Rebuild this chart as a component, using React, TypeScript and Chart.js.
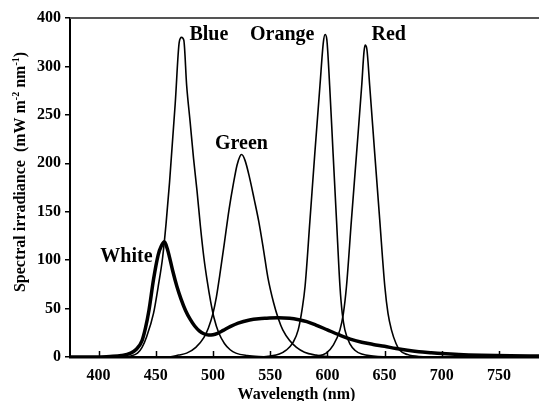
import { useEffect, useRef } from 'react';
import { Chart, registerables } from 'chart.js';

Chart.register(...registerables);

const FONT = '"Liberation Serif", "Times New Roman", serif';

// Wavelength (nm) / spectral irradiance (mW m-2 nm-1) samples
const blueNm = [375, 420, 428, 434, 438, 442, 448, 452, 456, 459, 462, 467, 470.5, 472.5, 474.5, 477, 480, 483, 486, 489, 492, 495, 498, 501, 505, 510, 515, 520, 530, 540, 560, 785];
const blueVal = [0, 0, 1, 4, 10, 21, 45, 72, 103, 138, 180, 262, 325, 330, 327, 280, 243, 205, 172, 135, 103, 78, 57, 40, 25, 14, 7.5, 4, 1.5, 0.5, 0, 0];

const greenNm = [375, 460, 470, 477, 485, 492, 496, 500, 503, 506, 510, 514, 518, 521, 523.5, 525, 528, 532, 536, 540, 544, 548, 553, 557, 561, 567, 573, 580, 590, 600, 620, 785];
const greenVal = [0, 0, 2, 4, 10, 20, 30, 45, 62, 85, 118, 152, 180, 198, 207, 209, 203, 185, 163, 140, 112, 82, 56, 40, 28, 17, 10, 5, 2, 0.5, 0, 0];

const orangeNm = [375, 540, 550, 558, 564, 570, 574.5, 578, 580.5, 584.7, 589, 593.5, 596.5, 598, 599.5, 602, 605, 608, 611, 613, 615.3, 620, 624, 630, 640, 660, 785];
const orangeVal = [0, 0, 1, 3, 7, 15, 28, 50, 73, 140, 210, 280, 325, 333, 328, 280, 210, 141, 73, 45, 28, 13, 7, 3, 1, 0, 0];

const redNm = [375, 580, 590, 599, 605, 611, 614, 616.7, 621, 625.5, 630, 632, 633, 634.5, 637, 641.4, 645.8, 650.2, 653, 656, 660, 663.3, 670, 680, 700, 785];
const redVal = [0, 0, 1, 4, 12, 28, 45, 73, 141, 210, 280, 315, 322, 318, 280, 210, 141, 73, 45, 28, 14, 7, 2.5, 0.5, 0, 0];

const whiteNm = [375, 400, 410, 420, 428, 433, 438, 441, 444, 448, 452, 455, 457.5, 460, 462.6, 465, 468.4, 472, 476, 480, 484, 488, 492, 496, 500, 504, 509, 515, 522, 532, 540, 547, 557, 567, 575, 582, 590, 600, 610, 620, 630, 640, 650, 660, 670, 680, 690, 700, 715, 735, 760, 785];
const whiteVal = [0, 0, 0.5, 1.5, 4, 8, 17, 30, 48, 80, 105, 115, 119, 112, 100, 88, 73, 60, 48, 39, 32, 27, 24, 22.7, 23, 24.5, 27.5, 31.3, 35, 38.2, 39.5, 40, 40.5, 40, 38.5, 36.5, 33, 28, 23, 18.5, 15.3, 13, 11, 8.8, 6.9, 5.5, 4.5, 3.6, 2.6, 1.8, 1.2, 1];

const xTickValues = [400, 450, 500, 550, 600, 650, 700, 750];
const yTickValues = [0, 50, 100, 150, 200, 250, 300, 350];
const yTickLabels = ['0', '50', '100', '150', '200', '250', '300', '400'];

const seriesNames = ['Blue', 'Orange', 'Red', 'Green', 'White'];
// anchor (nm, value) of each series label, left/baseline
const labelNm = [479.4, 532.4, 638.6, 501.8, 401.5];
const labelVal = [327.5, 327.5, 327.5, 214.6, 98.5];

const toPts = (xs: number[], ys: number[]) => xs.map((x, i) => ({ x, y: ys[i] }));

const decor = {
  id: 'decor',
  afterDraw(chart: any) {
    const { ctx, chartArea, scales } = chart;
    const x = scales.x;
    const y = scales.y;
    ctx.save();
    // top frame line
    ctx.strokeStyle = '#555';
    ctx.lineWidth = 2;
    ctx.beginPath();
    ctx.moveTo(chartArea.left, chartArea.top);
    ctx.lineTo(chartArea.right, chartArea.top);
    ctx.stroke();
    // inward x ticks
    ctx.strokeStyle = '#000';
    ctx.lineWidth = 1.5;
    xTickValues.forEach((v) => {
      const px = Math.round(x.getPixelForValue(v)) + 0.5;
      ctx.beginPath();
      ctx.moveTo(px, chartArea.bottom);
      ctx.lineTo(px, chartArea.bottom - 6);
      ctx.stroke();
    });
    // series labels
    ctx.fillStyle = '#000';
    ctx.font = `bold 20px ${FONT}`;
    ctx.textAlign = 'left';
    ctx.textBaseline = 'alphabetic';
    seriesNames.forEach((t, i) => {
      ctx.fillText(t, x.getPixelForValue(labelNm[i]), y.getPixelForValue(labelVal[i]));
    });
    // x title
    ctx.font = `bold 16px ${FONT}`;
    ctx.textAlign = 'center';
    ctx.textBaseline = 'top';
    ctx.fillText('Wavelength (nm)', (chartArea.left + chartArea.right) / 2 - 8, 387);
    // y title with superscripts
    const segs: [string, boolean][] = [
      ['Spectral irradiance  (mW m', false],
      ['-2', true],
      [' nm', false],
      ['-1', true],
      [')', false],
    ];
    const big = `bold 16px ${FONT}`;
    const small = `bold 10px ${FONT}`;
    let total = 0;
    segs.forEach(([t, sup]) => {
      ctx.font = sup ? small : big;
      total += ctx.measureText(t).width;
    });
    ctx.translate(25, 172);
    ctx.rotate(-Math.PI / 2);
    ctx.textAlign = 'left';
    ctx.textBaseline = 'alphabetic';
    let cx = -total / 2;
    segs.forEach(([t, sup]) => {
      ctx.font = sup ? small : big;
      ctx.fillText(t, cx, sup ? -6 : 0);
      cx += ctx.measureText(t).width;
    });
    ctx.restore();
  },
};

export default function App() {
  const ref = useRef<HTMLCanvasElement | null>(null);
  useEffect(() => {
    if (!ref.current) return;
    const mk = (data: { x: number; y: number }[], w: number) => ({
      data,
      borderColor: '#000',
      borderWidth: w,
      pointRadius: 0,
      fill: false,
      cubicInterpolationMode: 'monotone' as const,
    });
    const chart = new Chart(ref.current, {
      type: 'line',
      data: {
        datasets: [
          mk(toPts(blueNm, blueVal), 1.6),
          mk(toPts(greenNm, greenVal), 1.6),
          mk(toPts(orangeNm, orangeVal), 1.6),
          mk(toPts(redNm, redVal), 1.6),
          mk(toPts(whiteNm, whiteVal), 3.5),
        ],
      },
      options: {
        animation: false,
        responsive: true,
        maintainAspectRatio: false,
        devicePixelRatio: 1,
        layout: { padding: { top: 18, right: 0, left: 0, bottom: 0 } },
        plugins: { legend: { display: false }, tooltip: { enabled: false } },
        scales: {
          x: {
            type: 'linear',
            min: 375,
            max: 785,
            afterFit: (s: any) => {
              s.height = 44;
            },
            afterBuildTicks: (s: any) => {
              s.ticks = xTickValues.map((v) => ({ value: v }));
            },
            grid: { display: false, drawTicks: false },
            border: { display: true, color: '#000', width: 2.5 },
            ticks: {
              color: '#000',
              padding: 9,
              maxRotation: 0,
              font: { family: FONT, size: 16, weight: 'bold' },
            },
          },
          y: {
            type: 'linear',
            min: 0,
            max: 350,
            afterFit: (s: any) => {
              s.width = 70;
            },
            afterBuildTicks: (s: any) => {
              s.ticks = yTickValues.map((v) => ({ value: v }));
            },
            grid: {
              display: true,
              drawOnChartArea: false,
              drawTicks: true,
              tickLength: 5,
              color: '#000',
              lineWidth: 1.5,
            },
            border: { display: true, color: '#000', width: 2 },
            ticks: {
              color: '#000',
              padding: 4,
              font: { family: FONT, size: 16, weight: 'bold' },
              callback: (v: any) => {
                const i = yTickValues.indexOf(Number(v));
                return i >= 0 ? yTickLabels[i] : '';
              },
            },
          },
        },
      },
      plugins: [decor],
    });
    return () => chart.destroy();
  }, []);
  return (
    <div style={{ position: 'fixed', left: 0, top: 0, width: 539, height: 401, background: '#fff' }}>
      <canvas ref={ref} />
    </div>
  );
}
